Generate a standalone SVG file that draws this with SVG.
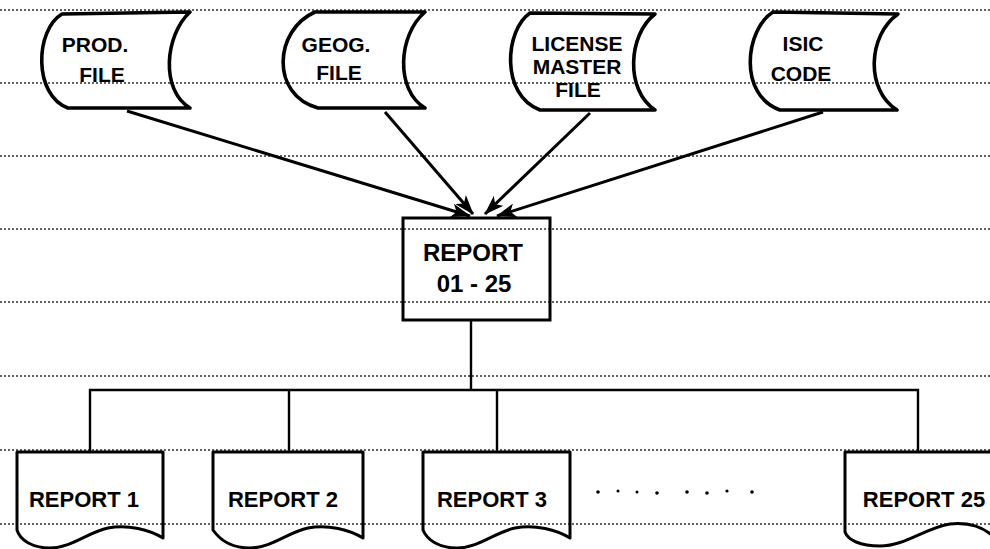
<svg xmlns="http://www.w3.org/2000/svg" width="990" height="549" viewBox="0 0 990 549">
  <defs>
    <style>
      .rule { stroke: #2e2e2e; stroke-width: 1.4; stroke-dasharray: 2 2; fill: none; }
      .file { stroke: #000; stroke-width: 3.6; fill: none; stroke-linejoin: round; }
      .box { stroke: #000; stroke-width: 3; fill: none; }
      .doc { stroke: #000; stroke-width: 3; fill: none; stroke-linejoin: round; }
      .conn { stroke: #000; stroke-width: 3; fill: none; }
      .bus { stroke: #000; stroke-width: 2.4; fill: none; }
      .lbl { font-family: "Liberation Sans", Arial, sans-serif; font-weight: bold; fill: #000; text-anchor: middle; }
      .f21 { font-size: 21px; }
      .f24 { font-size: 24px; }
      .f22 { font-size: 22px; }
    </style>
    <marker id="head" viewBox="0 0 20 14" refX="19" refY="7" markerWidth="20" markerHeight="14" markerUnits="userSpaceOnUse" orient="auto">
      <path d="M0 0 L20 7 L0 14 L5 7 Z" fill="#000"/>
    </marker>
  </defs>

  <rect width="990" height="549" fill="#fff"/>

  <!-- ruled paper -->
  <g id="ruling">
    <line class="rule" x1="0" y1="10" x2="990" y2="10"/>
    <line class="rule" x1="0" y1="83" x2="990" y2="83"/>
    <line class="rule" x1="0" y1="156" x2="990" y2="156"/>
    <line class="rule" x1="0" y1="229" x2="990" y2="229"/>
    <line class="rule" x1="0" y1="302" x2="990" y2="302"/>
    <line class="rule" x1="0" y1="376" x2="990" y2="376"/>
    <line class="rule" x1="0" y1="450" x2="990" y2="450"/>
    <line class="rule" x1="0" y1="524" x2="990" y2="524"/>
  </g>

  <!-- connectors -->
  <g id="connectors">
    <line class="conn" x1="127" y1="111" x2="470" y2="216" marker-end="url(#head)"/>
    <line class="conn" x1="385" y1="112" x2="473" y2="214" marker-end="url(#head)"/>
    <line class="conn" x1="590" y1="113" x2="485" y2="214" marker-end="url(#head)"/>
    <line class="conn" x1="823" y1="112" x2="497" y2="216" marker-end="url(#head)"/>
    <line class="bus" x1="471" y1="320" x2="471" y2="390"/>
    <path class="bus" d="M90 452 V390 H918 V452"/>
    <line class="bus" x1="289" y1="390" x2="289" y2="452"/>
    <line class="bus" x1="497" y1="390" x2="497" y2="452"/>
  </g>

  <!-- stored data files -->
  <g id="prod-file">
    <path class="file" d="M62 14 L190 12 C165 35 160 90 190 108 L68 108 C33 95 35 30 62 14 Z"/>
    <text class="lbl f21" x="95" y="52">PROD.</text>
    <text class="lbl f21" x="102" y="82">FILE</text>
  </g>
  <g id="geog-file">
    <path class="file" d="M315 12 L425 12 C398 35 395 90 425 108 L318 108 C270 95 274 30 315 12 Z"/>
    <text class="lbl f21" x="336" y="52">GEOG.</text>
    <text class="lbl f21" x="339" y="80">FILE</text>
  </g>
  <g id="license-file">
    <path class="file" d="M530 13 L655 14 C628 35 625 90 655 110 L540 110 C500 95 505 30 530 13 Z"/>
    <text class="lbl f21" x="577" y="51">LICENSE</text>
    <text class="lbl f21" x="577" y="74">MASTER</text>
    <text class="lbl f21" x="578" y="97">FILE</text>
  </g>
  <g id="isic-file">
    <path class="file" d="M773 12 L898 14 C868 35 865 90 897 110 L780 110 C738 95 745 30 773 12 Z"/>
    <text class="lbl f21" x="803" y="51">ISIC</text>
    <text class="lbl f21" x="801" y="81">CODE</text>
  </g>

  <!-- process -->
  <g id="report-process">
    <rect class="box" x="403" y="218" width="147" height="102"/>
    <text class="lbl f24" x="473" y="261">REPORT</text>
    <text class="lbl f24" x="474" y="292">01 - 25</text>
  </g>

  <!-- output documents -->
  <g id="report-1">
    <path class="doc" d="M17 452 H163 V538 C150 530 128 524 108 528 C88 532 72 548 50 548 C32 548 20 540 17 530 Z"/>
    <text class="lbl f22" x="84" y="507">REPORT 1</text>
  </g>
  <g id="report-2">
    <path class="doc" d="M213 452 H363 V538 C350 530 328 524 308 528 C288 532 272 548 250 548 C232 548 220 540 213 530 Z"/>
    <text class="lbl f22" x="283" y="507">REPORT 2</text>
  </g>
  <g id="report-3">
    <path class="doc" d="M423 452 H570 V538 C557 530 535 524 515 528 C495 532 479 548 457 548 C439 548 427 540 423 530 Z"/>
    <text class="lbl f22" x="492" y="507">REPORT 3</text>
  </g>
  <g id="ellipsis" fill="#000">
    <circle cx="598" cy="492" r="1.8"/>
    <circle cx="618" cy="491" r="1.5"/>
    <circle cx="637" cy="492" r="1.5"/>
    <circle cx="657" cy="493" r="1.8"/>
    <circle cx="687" cy="492" r="1.8"/>
    <circle cx="707" cy="493" r="1.8"/>
    <circle cx="727" cy="491" r="1.6"/>
    <circle cx="752" cy="492" r="1.8"/>
  </g>
  <g id="report-25">
    <path class="doc" d="M845 452 H995 V538 C985 528 970 522 950 524 C925 528 905 546 880 546 C860 546 848 540 845 532 Z"/>
    <text class="lbl f22" x="924" y="507">REPORT 25</text>
  </g>
</svg>
